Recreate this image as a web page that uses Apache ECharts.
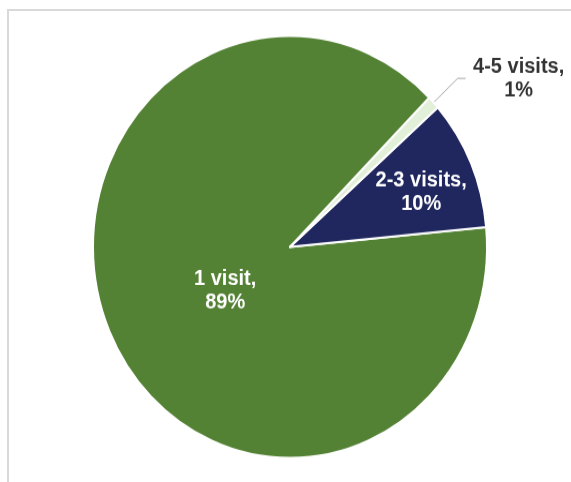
<!DOCTYPE html>
<html>
<head>
<meta charset="utf-8">
<script src="https://cdn.jsdelivr.net/npm/echarts@6/dist/echarts.min.js"></script>
<style>
  html, body { margin: 0; padding: 0; background: #fff; }
  body { width: 571px; height: 482px; position: relative; overflow: hidden; }
  #frame {
    position: absolute; left: 7px; top: 9px; width: 700px; height: 600px;
    border-left: 2px solid #d9d9d9; border-top: 2px solid #d9d9d9;
  }
  /* the pie is drawn round and stretched vertically to its oval shape */
  #chart {
    position: absolute; left: 0; top: 0; width: 571px; height: 450px;
    transform: scaleY(1.0711); transform-origin: 0 0;
  }
</style>
</head>
<body>
<div id="frame"></div>
<div id="chart"></div>
<script>
// Number of visits per person, share of respondents (%)
const categories = ['1 visit', '2-3 visits', '4-5 visits'];
const shares = [89, 10, 1];

const palette = ['#548235', '#1f275e', '#e2f0d9'];
const FONT = '"Liberation Sans", Arial, sans-serif';

// nudges for the two labels drawn inside their slices
const insideShift = [[27, -2], [38, -11], [0, 0]];

const chart = echarts.init(document.getElementById('chart'), null, { renderer: 'canvas' });

const data = categories.map((name, i) => {
  const item = { name: name, value: shares[i], itemStyle: { color: palette[i] } };
  if (i === 2) {
    item.label = {
      show: true,
      position: 'outside',
      formatter: p => '{t|' + p.name + ',}\n{t|' + p.value + '%}',
      rich: {
        t: {
          width: 96, align: 'center', color: '#333333',
          fontFamily: FONT, fontWeight: 'bold', fontSize: 20, lineHeight: 22
        }
      }
    };
    item.labelLine = {
      show: true, length: 33, length2: 8, smooth: false,
      lineStyle: { color: '#a6a6a6', width: 1 }
    };
  }
  return item;
});

chart.setOption({
  animation: false,
  series: [{
    type: 'pie',
    center: [290, 230.6],
    radius: 197,
    startAngle: 45,
    clockwise: false,
    avoidLabelOverlap: false,
    minShowLabelAngle: 0,
    itemStyle: { borderColor: '#ffffff', borderWidth: 2 },
    label: {
      show: true,
      position: 'inside',
      formatter: p => p.name + ',\n' + p.value + '%',
      color: '#ffffff',
      fontFamily: FONT,
      fontWeight: 'bold',
      fontSize: 20,
      lineHeight: 22,
      textBorderWidth: 0,
      align: 'center'
    },
    labelLine: { show: false },
    labelLayout: p => {
      const s = insideShift[p.dataIndex];
      return { dx: s[0], dy: s[1] };
    },
    emphasis: { disabled: true },
    data: data
  }]
});
</script>
</body>
</html>
